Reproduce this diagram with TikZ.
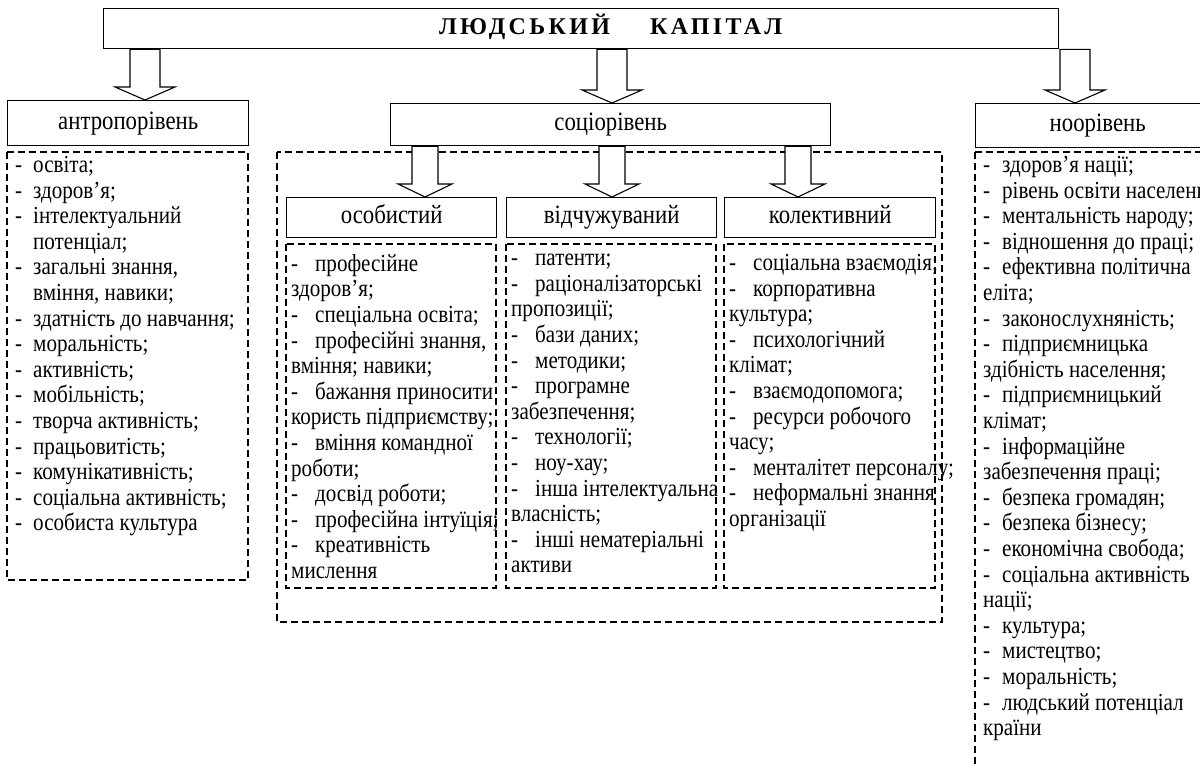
\documentclass[tikz,border=0pt]{standalone}
\usepackage{fontspec}
\usetikzlibrary{calc}
\setmainfont[FakeStretch=0.86]{Liberation Serif}
\newfontfamily\spacedfont[LetterSpace=14]{Liberation Serif}
\newcommand\hollowarr[5]{%
  \draw[hollow] let \p1=(#1.south), \p2=(#2.north) in
    (#3pt-#4pt,\y1) -- (#3pt+#4pt,\y1) -- (#3pt+#4pt,\y2+13pt) -- (#3pt+#5pt,\y2+13pt)
    -- (#3pt,\y2) -- (#3pt-#5pt,\y2+13pt) -- (#3pt-#4pt,\y2+13pt) -- cycle;}
\newcommand\hi[1]{\makebox[18pt][l]{-}#1}
\newcommand\hc[1]{\hspace*{18pt}#1}
\newcommand\mi[1]{\makebox[24pt][l]{-}#1}
\newcommand\ri[1]{\makebox[19pt][l]{-}#1}
\begin{document}
\begin{tikzpicture}[x=1pt,y=-1pt,
  box/.style={draw,line width=1.4pt,fill=white,anchor=north west,inner sep=0pt,
    text height=17pt,text depth=5pt,font=\fontsize{26.5}{28}\selectfont},
  dbox/.style={draw,line width=1.2pt,dash pattern=on 7pt off 4pt},
  hollow/.style={draw,line width=1.1pt,fill=white,line join=miter},
  lst/.style={anchor=north west,inner sep=0pt,align=left,font=\fontsize{24.5}{25.6}\selectfont},
]
\useasboundingbox (0,0) rectangle (1200,765);
\clip (0,0) rectangle (1200,765);

% dashed containers
\draw[dbox] (7,152) rectangle (248,580);
\draw[dbox] (277,152) rectangle (942,622);
\draw[dbox] (286,244) rectangle (496,588);
\draw[dbox] (506,244) rectangle (716,588);
\draw[dbox] (724,244) rectangle (935,588);
\draw[dbox] (975,152) rectangle (1215,790);

% boxes
\node[box,minimum width=955pt,minimum height=40pt] (title) at (103,8)
  {\hspace*{59pt}\fontsize{24}{26}\selectfont\spacedfont\bfseries ЛЮДСЬКИЙ\hspace{40pt}КАПІТАЛ};
\node[box,minimum width=241pt,minimum height=45pt] (antro) at (7,100) {антропорівень};
\node[box,minimum width=440pt,minimum height=42pt] (socio) at (390,103) {соціорівень};
\node[box,minimum width=240pt,minimum height=44pt] (noo) at (975,103) {\hspace*{4pt}ноорівень};
\node[box,minimum width=210pt,minimum height=40pt] (osob) at (286,197) {особистий};
\node[box,minimum width=210pt,minimum height=40pt] (vidch) at (506,197) {відчужуваний};
\node[box,minimum width=211pt,minimum height=40pt] (kolek) at (724,197) {колективний};

% arrows
\hollowarr{title}{antro}{145}{15}{30}
\hollowarr{title}{socio}{612}{15}{30}
\hollowarr{title}{noo}{1075}{15}{30}
\hollowarr{socio}{osob}{425}{13}{27}
\hollowarr{socio}{vidch}{612}{13}{27}
\hollowarr{socio}{kolek}{798}{13}{27}

% lists
\node[lst] (antrolist) at (15,156) {\hi{освіта;}\\ \hi{здоров’я;}\\ \hi{інтелектуальний}\\ \hc{потенціал;}\\
  \hi{загальні знання,}\\ \hc{вміння, навики;}\\ \hi{здатність до навчання;}\\ \hi{моральність;}\\
  \hi{активність;}\\ \hi{мобільність;}\\ \hi{творча активність;}\\ \hi{працьовитість;}\\
  \hi{комунікативність;}\\ \hi{соціальна активність;}\\ \hi{особиста культура}};
\node[lst] (osoblist) at (291,254) {\mi{професійне}\\ здоров’я;\\ \mi{спеціальна освіта;}\\ \mi{професійні знання,}\\
  вміння; навики;\\ \mi{бажання приносити}\\ користь підприємству;\\ \mi{вміння командної}\\ роботи;\\
  \mi{досвід роботи;}\\ \mi{професійна інтуїція;}\\ \mi{креативність}\\ мислення};
\node[lst] (vidchlist) at (511,254) {\mi{патенти;}\\ \mi{раціоналізаторські}\\ пропозиції;\\ \mi{бази даних;}\\
  \mi{методики;}\\ \mi{програмне}\\ забезпечення;\\ \mi{технології;}\\ \mi{ноу-хау;}\\
  \mi{інша інтелектуальна}\\ власність;\\ \mi{інші нематеріальні}\\ активи};
\node[lst] (kolelist) at (729,254) {\mi{соціальна взаємодія;}\\ \mi{корпоративна}\\ культура;\\ \mi{психологічний}\\
  клімат;\\ \mi{взаємодопомога;}\\ \mi{ресурси робочого}\\ часу;\\ \mi{менталітет персоналу;}\\
  \mi{неформальні знання}\\ організації};
\node[lst] (noolist) at (983,156) {\ri{здоров’я нації;}\\ \ri{рівень освіти населення;}\\ \ri{ментальність народу;}\\
  \ri{відношення до праці;}\\ \ri{ефективна політична}\\ еліта;\\ \ri{законослухняність;}\\
  \ri{підприємницька}\\ здібність населення;\\ \ri{підприємницький}\\ клімат;\\ \ri{інформаційне}\\
  забезпечення праці;\\ \ri{безпека громадян;}\\ \ri{безпека бізнесу;}\\ \ri{економічна свобода;}\\
  \ri{соціальна активність}\\ нації;\\ \ri{культура;}\\ \ri{мистецтво;}\\ \ri{моральність;}\\
  \ri{людський потенціал}\\ країни};
\end{tikzpicture}
\end{document}
